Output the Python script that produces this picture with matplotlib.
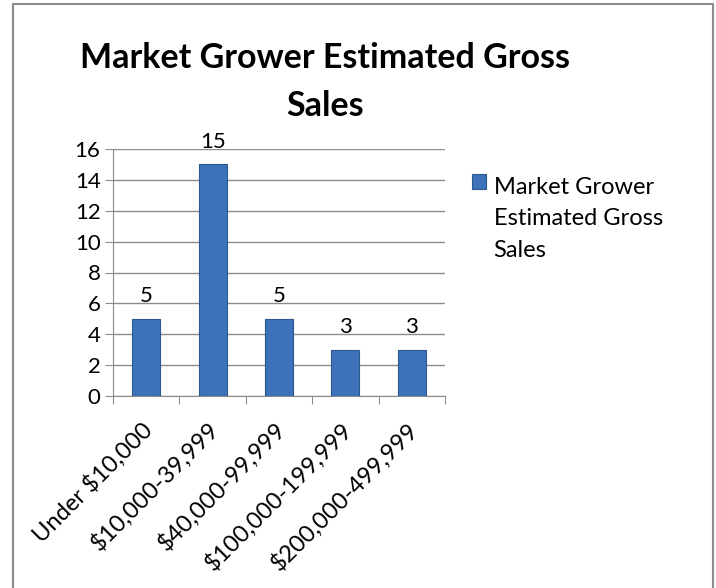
import matplotlib.pyplot as plt
import matplotlib.transforms as mtransforms
from matplotlib.patches import Rectangle

categories = ['Under $10,000', '$10,000-39,999', '$40,000-99,999',
              '$100,000-199,999', '$200,000-499,999']
counts = [5, 15, 5, 3, 3]
series_name = 'Market Grower\nEstimated Gross\nSales'

plt.rcParams['font.family'] = ['Lato', 'DejaVu Sans']

fig = plt.figure(figsize=(7.16, 5.88), dpi=100)
# outer chart border (bottom edge is off the picture)
fig.patches.append(Rectangle((13 / 716, -0.05), 700 / 716, 1.05 - 4 / 588,
                             transform=fig.transFigure, fill=False,
                             edgecolor='#8c8c8c', linewidth=1.5))

ax = fig.add_axes([113 / 716, 1 - 396 / 588, 332 / 716, 247 / 588])
x = range(len(categories))
bars = ax.bar(x, counts, width=0.42, color='#3d72ba', edgecolor='#2b578f',
              linewidth=0.8, label=series_name, zorder=3)
for b, v in zip(bars, counts):
    ax.annotate(str(v), (b.get_x() + b.get_width() / 2, v),
                xytext=(0, 9), textcoords='offset points',
                ha='center', va='bottom', fontsize=16)

ax.set_xlim(-0.5, len(categories) - 0.5)
ax.set_ylim(0, 16)
ax.set_yticks(range(0, 17, 2))
ax.set_xticks([i - 0.5 for i in range(len(categories) + 1)], minor=False)
ax.set_xticklabels([])
ax.set_xticks(list(x), minor=True)
ax.set_xticklabels(categories, minor=True, rotation=45, ha='right',
                   rotation_mode='anchor', fontsize=17)
ax.tick_params(axis='x', which='minor', length=0, pad=16)
ax.tick_params(axis='x', which='major', length=6, color='#8c8c8c')
ax.tick_params(axis='y', length=6, color='#8c8c8c', labelsize=16, pad=3)
ax.grid(axis='y', color='#8c8c8c', linewidth=1, zorder=0)
for s in ['top', 'right']:
    ax.spines[s].set_visible(False)
ax.spines['left'].set_color('#8c8c8c')
ax.spines['bottom'].set_color('#8c8c8c')

# nudge rotated labels a little left so they end under the bars
shift = mtransforms.ScaledTranslation(-5 / 100, 0, fig.dpi_scale_trans)
for lab in ax.get_xticklabels(minor=True):
    lab.set_transform(lab.get_transform() + shift)

fig.text(325 / 716, 1 - 82 / 588, 'Market Grower Estimated Gross\nSales',
         ha='center', va='center', fontsize=24.5, fontweight='bold',
         linespacing=1.65)

leg = fig.legend(handles=[bars], labels=[series_name], loc='upper left',
                 bbox_to_anchor=(451 / 716, 1 - 156 / 588), frameon=False,
                 fontsize=17, handlelength=0.6, handleheight=0.6,
                 handletextpad=0.3, labelspacing=0.3)
leg.get_texts()[0].set_linespacing(1.6)
# put the key beside the first line of the label, as in the original
h = leg.legend_handles[0]
h.set_y(h.get_y() + 17 * 1.6)

fig.savefig('out.png', dpi=100)
